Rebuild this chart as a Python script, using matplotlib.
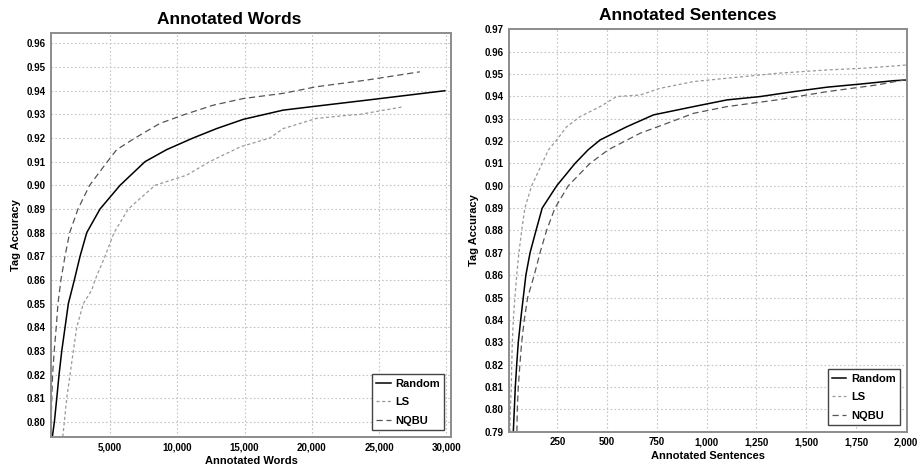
import matplotlib
matplotlib.use('Agg')
import matplotlib.pyplot as plt
from matplotlib.ticker import FuncFormatter, MultipleLocator

plt.rcParams['font.family'] = ['Liberation Sans', 'DejaVu Sans']
plt.rcParams['font.weight'] = 'bold'

# --- Annotated Words panel ---
random_w_x = [713, 862, 1040, 1211, 1412, 1657, 1902, 2348, 2771, 3269, 4257, 5743, 7600, 9212,
              11170, 12927, 14905, 17875, 20357, 24071, 26545, 29889]
random_w_y = [0.7937, 0.800, 0.810, 0.820, 0.830, 0.840, 0.850, 0.860, 0.870, 0.880, 0.890, 0.900,
              0.910, 0.9151, 0.920, 0.9240, 0.9279, 0.9318, 0.9335, 0.9360, 0.9377, 0.9400]
ls_w_x = [1486, 1605, 1783, 2028, 2273, 2526, 3016, 3640, 3886, 4629, 5300, 6360, 8343, 10700,
          12400, 14700, 16880, 17875, 20357, 22830, 23575, 26790]
ls_w_y = [0.7937, 0.800, 0.810, 0.820, 0.830, 0.840, 0.850, 0.8557, 0.860, 0.870, 0.880, 0.890,
          0.900, 0.9043, 0.910, 0.9163, 0.920, 0.9240, 0.9283, 0.9297, 0.930, 0.9332]
nqbu_w_x = [620, 669, 730, 850, 1000, 1130, 1350, 1650, 2000, 2620, 3480, 4800, 5498, 6858, 8715,
            10572, 12675, 14905, 17875, 20357, 24071, 28033]
nqbu_w_y = [0.800, 0.810, 0.820, 0.830, 0.840, 0.850, 0.860, 0.870, 0.880, 0.890, 0.900, 0.910,
            0.9151, 0.920, 0.9262, 0.930, 0.9339, 0.9367, 0.9389, 0.9417, 0.9445, 0.9480]

# --- Annotated Sentences panel ---
random_s_x = [29, 34, 39, 46, 54, 66, 79, 92, 113, 143, 174, 247, 339, 405, 465, 599, 733, 934,
              1102, 1269, 1437, 1605, 1773, 1940, 2002]
random_s_y = [0.790, 0.800, 0.810, 0.820, 0.830, 0.840, 0.850, 0.860, 0.870, 0.880, 0.890, 0.900,
              0.910, 0.9161, 0.9205, 0.9264, 0.9317, 0.9354, 0.9384, 0.9399, 0.9421, 0.9441,
              0.9455, 0.9470, 0.9473]
ls_s_x = [12, 14, 19, 21, 24, 29, 37, 46, 57, 71, 87, 121, 174, 205, 247, 297, 364, 465, 548, 666,
          767, 934, 1102, 1353, 1605, 1773, 1947, 2000]
ls_s_y = [0.790, 0.800, 0.810, 0.820, 0.830, 0.840, 0.850, 0.860, 0.870, 0.880, 0.890, 0.900,
          0.910, 0.9160, 0.9205, 0.9264, 0.9309, 0.9354, 0.9399, 0.9406, 0.9436, 0.9466, 0.9481,
          0.9503, 0.9518, 0.9525, 0.9536, 0.9540]
nqbu_s_x = [47, 49, 54, 62, 71, 84, 101, 134, 163, 196, 238, 305, 414, 506, 666, 800, 934, 1102,
            1353, 1605, 1856, 2002]
nqbu_s_y = [0.790, 0.800, 0.810, 0.820, 0.830, 0.840, 0.850, 0.860, 0.870, 0.880, 0.890, 0.900,
            0.910, 0.9161, 0.9235, 0.9279, 0.9324, 0.9354, 0.9384, 0.9421, 0.9451, 0.9475]

labels = ['Random', 'LS', 'NQBU']


def style_axes(ax, xlim, ylim, xstep, ylabel, xlabel):
    ax.set_xlim(*xlim)
    ax.set_ylim(*ylim)
    ax.xaxis.set_major_locator(MultipleLocator(xstep))
    ax.yaxis.set_major_locator(MultipleLocator(0.01))
    ax.xaxis.set_major_formatter(FuncFormatter(lambda v, p: f'{v:,.0f}'))
    ax.yaxis.set_major_formatter(FuncFormatter(lambda v, p: f'{v:.2f}'))
    ax.grid(True, color='#c4c4c4', linestyle=(0, (1.5, 2)), linewidth=0.8)
    ax.tick_params(length=0, labelsize=7, pad=4)
    for s in ax.spines.values():
        s.set_color('#8c8c8c')
        s.set_linewidth(1.4)
    ax.set_xlabel(xlabel, fontsize=8, fontweight='bold', labelpad=3)
    ax.set_ylabel(ylabel, fontsize=8, fontweight='bold', labelpad=4)
    leg = ax.legend(loc='lower right', fontsize=8, fancybox=False, framealpha=1,
                    edgecolor='#444444', handlelength=1.3, borderaxespad=0.6,
                    handletextpad=0.4, labelspacing=0.75, borderpad=0.4)
    leg.get_frame().set_linewidth(1.0)


fig = plt.figure(figsize=(9.17, 4.72), dpi=100)
ax1 = fig.add_axes([0.0556, 0.0748, 0.4362, 0.8552])
ax2 = fig.add_axes([0.555, 0.0854, 0.4338, 0.8526])

ax1.plot(random_w_x, random_w_y, color='black', lw=1.1, label=labels[0])
ax1.plot(ls_w_x, ls_w_y, color='#999999', lw=0.9, linestyle=(0, (2.5, 2)), label=labels[1])
ax1.plot(nqbu_w_x, nqbu_w_y, color='#555555', lw=0.9, linestyle=(0, (5, 3)), label=labels[2])
style_axes(ax1, (610, 30350), (0.7937, 0.9644), 5000, 'Tag Accuracy', 'Annotated Words')
ax1.set_xticks([5000, 10000, 15000, 20000, 25000, 30000])

ax2.plot(random_s_x, random_s_y, color='black', lw=1.1, label=labels[0])
ax2.plot(ls_s_x, ls_s_y, color='#999999', lw=0.9, linestyle=(0, (2.5, 2)), label=labels[1])
ax2.plot(nqbu_s_x, nqbu_s_y, color='#555555', lw=0.9, linestyle=(0, (5, 3)), label=labels[2])
style_axes(ax2, (7, 2005), (0.79, 0.97), 250, 'Tag Accuracy', 'Annotated Sentences')
ax2.set_xticks([250, 500, 750, 1000, 1250, 1500, 1750, 2000])

fig.text(229 / 917, 1 - 20 / 472, 'Annotated Words', ha='center', va='center',
         fontsize=12.5, fontweight='bold')
fig.text(688 / 917, 1 - 16 / 472, 'Annotated Sentences', ha='center', va='center',
         fontsize=12.5, fontweight='bold')

fig.savefig('out.png', dpi=100)
